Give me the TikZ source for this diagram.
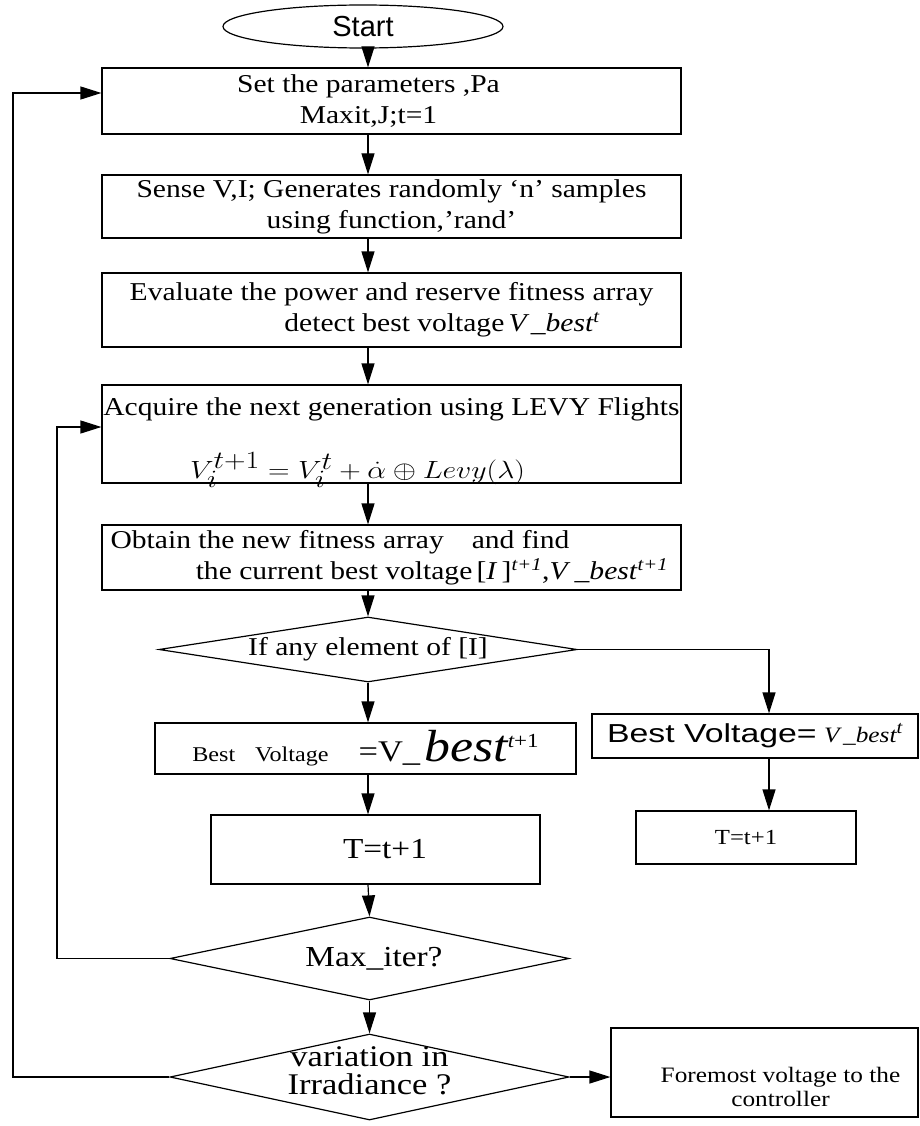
\documentclass[tikz,border=0pt]{standalone}
\usepackage{fontspec}
\setmainfont[FakeStretch=1.15]{Liberation Serif}
\newfontfamily\arialfont{Liberation Sans}
\newfontfamily\widearial[FakeStretch=1.3]{Liberation Sans}
\usetikzlibrary{shapes.geometric, arrows.meta, calc}

\begin{document}
\begin{tikzpicture}[x=1pt, y=-1pt, >={Triangle[length=21pt,width=13pt]}, line width=1.2pt,
    font=\fontsize{25.7}{31}\selectfont,
    stepbox/.style={draw, rectangle, inner sep=0pt, align=center},
    testbox/.style={draw, diamond, inner sep=0pt}]

    \useasboundingbox (0,0) rectangle (919,1126);

    \coordinate (axis) at (368,0);
    \coordinate (rcol) at (769,0);
    \coordinate (inner) at (57,0);
    \coordinate (outer) at (13,0);

    \node [draw, ellipse, minimum width=280pt, minimum height=43pt, inner sep=0pt,
        font=\arialfont\fontsize{29}{31}\selectfont] (start) at (363,26.5) {Start};
    \node [stepbox, minimum width=579pt, minimum height=66pt] (set) at (391.5,101)
        {Set the parameters ,Pa\hspace*{46pt}\\Maxit,J;t=1\hspace*{46pt}};
    \node [stepbox, minimum width=579pt, minimum height=63pt] (sense) at (391.5,206.5)
        {Sense V,I; Generates randomly ‘n’ samples\\using function,’rand’};
    \node [stepbox, minimum width=579pt, minimum height=74pt] (eval) at (391.5,310)
        {Evaluate the power and reserve fitness array\\
        \hspace*{101pt}detect best voltage\,{\itshape V\,\_best}\textsuperscript{\itshape t}};
    \node [stepbox, minimum width=579pt, minimum height=98pt,
        label={[yshift=25pt]center:Acquire the next generation using LEVY Flights},
        label={[xshift=-34pt, yshift=-36pt]center:\scalebox{1.2}[1]{\fontsize{38}{40}\selectfont$V_i^{t+1} = V_i^t + \dot{\alpha}\oplus Levy(\lambda)$}}]
        (levy) at (391.5,434) {};
    \node [stepbox, minimum width=579pt, minimum height=65pt] (obtain) at (391.5,557.5)
        {Obtain the new fitness array\hspace{0.8em} and find\hspace*{103pt}\\
        \hspace*{81pt}the current best voltage\,[\textit{I}\,]\textsuperscript{\itshape t+1},\textit{V}\,\_\textit{best}\textsuperscript{\itshape t+1}};

    \node [testbox, minimum width=418pt, minimum height=65pt,
        label=center:{If any element of [I]}] (anyel) at (368,649.5) {};

    \node [stepbox, minimum width=421pt, minimum height=51pt] (bestv) at (365.5,748.5)
        {{\fontsize{21}{24}\selectfont Best\hspace{20pt}Voltage\hspace{30pt}}{\fontsize{30}{32}\selectfont=V\_}\,{\fontsize{45}{48}\selectfont\itshape best}\raisebox{14pt}{\fontsize{20}{22}\selectfont\itshape t\upshape+1}};
    \node [stepbox, minimum width=326pt, minimum height=44pt] (bestvr) at (755,736)
        {{\widearial\fontsize{26}{28}\selectfont Best Voltage=} {\fontsize{22}{24}\selectfont\itshape V\,\_best}\textsuperscript{\itshape t}};
    \node [stepbox, minimum width=329pt, minimum height=69pt, font=\fontsize{29}{31}\selectfont]
        (incl) at (375.5,849.5) {\hspace*{19pt}T=t+1};
    \node [stepbox, minimum width=220pt, minimum height=53pt, font=\fontsize{21.5}{24}\selectfont]
        (incr) at (746,837.5) {T=t+1};

    \node [testbox, minimum width=399pt, minimum height=83pt,
        label={[xshift=4.5pt, font=\fontsize{29}{31}\selectfont]center:Max\_iter?}] (maxit) at (369.5,958.5) {};
    \node [testbox, minimum width=399pt, minimum height=86pt,
        label={[align=center, yshift=6pt, font=\fontsize{30}{28}\selectfont]center:variation in\\Irradiance ?}] (irrad) at (369.5,1077) {};
    \node [stepbox, minimum width=307pt, minimum height=89pt,
        label={[align=center, xshift=16pt, yshift=-14pt, font=\fontsize{22}{24}\selectfont]center:Foremost voltage to the\\controller}]
        (out) at (764.5,1072.5) {};

    \draw [->] (start.south -| axis) -- (set.north -| axis);
    \draw [->] (set.south -| axis) -- (sense.north -| axis);
    \draw [->] (sense.south -| axis) -- (eval.north -| axis);
    \draw [->] (eval.south -| axis) -- (levy.north -| axis);
    \draw [->] (levy.south -| axis) -- (obtain.north -| axis);
    \draw [->] (obtain.south -| axis) -- (anyel.north);
    \draw [->] (anyel.south) -- (bestv.north -| axis);
    \draw [->] (bestv.south -| axis) -- (incl.north -| axis);
    \draw [->] (incl.south -| axis) -- (maxit.north);
    \draw [->] (maxit.south) -- (irrad.north);

    \draw [->] (anyel.east) -| (bestvr.north -| rcol);
    \draw [->] (bestvr.south -| rcol) -- (incr.north -| rcol);

    \draw [->] (maxit.west) -- (maxit.west -| inner) |- ([yshift=7pt]levy.west);
    \draw [->] (irrad.west) -- (irrad.west -| outer) |- ([yshift=8pt]set.west);
    \draw [->] (irrad.east) -- (out.west |- irrad.east);

\end{tikzpicture}
\end{document}
